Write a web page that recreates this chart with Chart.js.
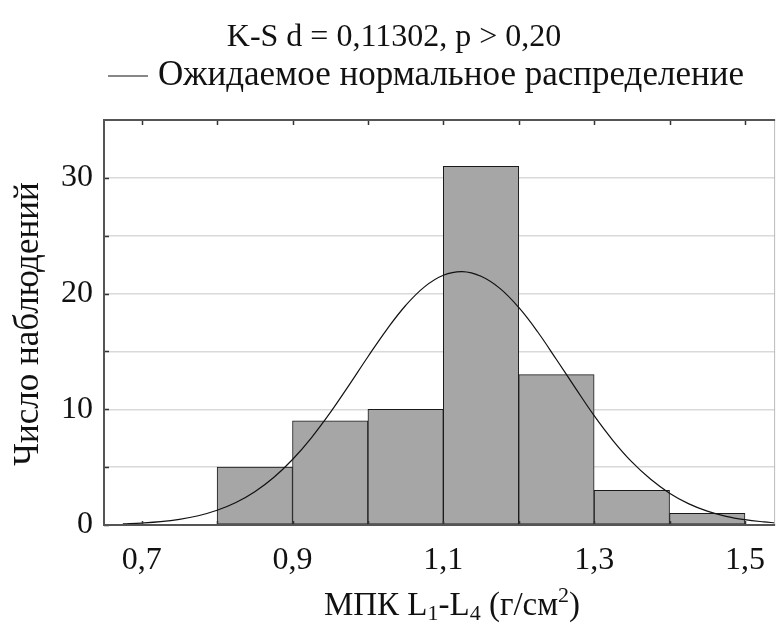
<!DOCTYPE html>
<html>
<head>
<meta charset="utf-8">
<script src="https://cdn.jsdelivr.net/npm/chart.js@4.4.0/dist/chart.umd.min.js"></script>
<style>
  html, body { margin: 0; padding: 0; background: #fff; }
  #wrap { width: 781px; height: 629px; }
</style>
</head>
<body>
<div id="wrap"><canvas id="histChart"></canvas></div>
<script>
// histogram bins (centres of 0.1-wide classes) and counts
const binCenters = [0.85, 0.95, 1.05, 1.15, 1.25, 1.35, 1.45];
const binCounts = [5, 9, 10, 31, 13, 3, 1];

const curveX = [0.675, 0.7, 0.725, 0.75, 0.775, 0.8, 0.825, 0.85, 0.875, 0.9, 0.925, 0.95, 0.975,
  1.0, 1.025, 1.05, 1.075, 1.1, 1.125, 1.15, 1.175, 1.2, 1.225, 1.25, 1.275, 1.3, 1.325,
  1.35, 1.375, 1.4, 1.425, 1.45, 1.475, 1.5, 1.525, 1.54];
const curveY = [0.09, 0.17, 0.29, 0.49, 0.8, 1.27, 1.94, 2.87, 4.1, 5.66, 7.54, 9.71, 12.09,
  14.54, 16.89, 18.97, 20.58, 21.58, 21.9, 21.5, 20.45, 18.8, 16.7, 14.3, 11.85, 9.45, 7.3,
  5.45, 3.95, 2.75, 1.85, 1.2, 0.75, 0.46, 0.27, 0.19];

const xTickValues = [0.7, 0.8, 0.9, 1.0, 1.1, 1.2, 1.3, 1.4, 1.5];
const xTickLabels = ['0,7', '', '0,9', '', '1,1', '', '1,3', '', '1,5'];
const yTickValues = [0, 5, 10, 15, 20, 25, 30];
const yTickLabels = ['0', '', '10', '', '20', '', '30'];

const titleText = 'K-S d = 0,11302, p > 0,20';
const legendText = 'Ожидаемое нормальное распределение';
const yTitleText = 'Число наблюдений';
// x-axis title pieces: [text, 'n' | 'sub' | 'sup']
const xTitleParts = [['МПК L', 'n'], ['1', 'sub'], ['-L', 'n'], ['4', 'sub'], [' (г/см', 'n'], ['2', 'sup'], [')', 'n']];

const FONT = '"Liberation Serif", "Times New Roman", serif';
const TEXT_COLOR = '#111';

// frame, inward tick marks and the text around the plot
const decorations = {
  id: 'decorations',
  afterDatasetsDraw(chart) {
    const { ctx, chartArea: a, scales } = chart;
    ctx.save();
    ctx.strokeStyle = '#333';
    ctx.lineWidth = 1.5;
    ctx.beginPath();
    xTickValues.forEach(v => {
      const px = Math.round(scales.x.getPixelForValue(v)) + 0.5;
      ctx.moveTo(px, a.top); ctx.lineTo(px, a.top + 5);
      ctx.moveTo(px, a.bottom); ctx.lineTo(px, a.bottom - 4);
    });
    yTickValues.forEach(v => {
      const py = Math.round(scales.y.getPixelForValue(v)) + 0.5;
      ctx.moveTo(a.left, py); ctx.lineTo(a.left + 5, py);
    });
    ctx.stroke();

    // right edge is only faint
    ctx.strokeStyle = '#bbb';
    ctx.lineWidth = 1;
    ctx.beginPath();
    ctx.moveTo(a.right - 0.5, a.top); ctx.lineTo(a.right - 0.5, a.bottom);
    ctx.stroke();

    ctx.strokeStyle = '#555';
    ctx.lineWidth = 2;
    ctx.beginPath();
    ctx.moveTo(a.right, a.top); ctx.lineTo(a.left, a.top);
    ctx.lineTo(a.left, a.bottom); ctx.lineTo(a.right, a.bottom);
    ctx.stroke();
    ctx.restore();
  },
  afterDraw(chart) {
    const { ctx } = chart;
    ctx.save();
    ctx.fillStyle = TEXT_COLOR;
    ctx.textBaseline = 'middle';

    ctx.font = '32px ' + FONT;
    ctx.textAlign = 'center';
    ctx.fillText(titleText, 394, 38);

    // legend: line sample + label
    ctx.strokeStyle = '#111';
    ctx.lineWidth = 1.2;
    ctx.beginPath();
    ctx.moveTo(108, 76); ctx.lineTo(148, 76);
    ctx.stroke();
    ctx.font = '35px ' + FONT;
    ctx.textAlign = 'left';
    ctx.fillText(legendText, 158, 76);

    // y-axis title
    ctx.save();
    ctx.translate(29, 324);
    ctx.rotate(-Math.PI / 2);
    ctx.font = '35px ' + FONT;
    ctx.textAlign = 'center';
    ctx.fillText(yTitleText, 0, 0);
    ctx.restore();

    // x-axis title with sub/superscripts
    const base = 33, small = 22;
    let total = 0;
    xTitleParts.forEach(([t, k]) => {
      ctx.font = (k === 'n' ? base : small) + 'px ' + FONT;
      total += ctx.measureText(t).width;
    });
    let x = 452 - total / 2;
    const y = 606;
    ctx.textAlign = 'left';
    xTitleParts.forEach(([t, k]) => {
      ctx.font = (k === 'n' ? base : small) + 'px ' + FONT;
      const dy = k === 'sub' ? 8 : k === 'sup' ? -10 : 0;
      ctx.fillText(t, x, y + dy);
      x += ctx.measureText(t).width;
    });
    ctx.restore();
  }
};

new Chart(document.getElementById('histChart'), {
  type: 'bar',
  data: {
    datasets: [
      {
        type: 'line',
        label: legendText,
        data: curveX.map((x, i) => ({ x: x, y: curveY[i] })),
        borderColor: '#111',
        borderWidth: 1.2,
        pointRadius: 0,
        tension: 0.4,
        fill: false,
        order: 0
      },
      {
        type: 'bar',
        label: 'Число наблюдений',
        data: binCenters.map((x, i) => ({ x: x, y: binCounts[i] })),
        backgroundColor: '#a6a6a6',
        borderColor: '#1a1a1a',
        borderWidth: 1,
        borderSkipped: false,
        barPercentage: 1,
        categoryPercentage: 1,
        order: 1
      }
    ]
  },
  options: {
    responsive: true,
    maintainAspectRatio: false,
    animation: false,
    layout: { padding: { top: 120, right: 1, left: 0, bottom: 0 } },
    plugins: {
      legend: { display: false },
      title: { display: false },
      tooltip: { enabled: false }
    },
    scales: {
      x: {
        type: 'linear',
        min: 0.65,
        max: 1.54,
        offset: false,
        afterBuildTicks: s => { s.ticks = xTickValues.map(v => ({ value: v })); },
        afterFit: s => { s.height = 104; },
        grid: { display: false, drawTicks: false },
        border: { display: false },
        ticks: {
          autoSkip: false,
          maxRotation: 0,
          padding: 16,
          color: TEXT_COLOR,
          font: { family: FONT, size: 32 },
          callback: (v, i) => xTickLabels[i]
        }
      },
      y: {
        min: 0,
        max: 35,
        afterBuildTicks: s => { s.ticks = yTickValues.map(v => ({ value: v })); },
        afterFit: s => { s.width = 104; },
        grid: {
          drawTicks: false,
          lineWidth: 1.5,
          color: ctx => (ctx.tick && ctx.tick.value === 0 ? 'rgba(0,0,0,0)' : '#d9d9d9')
        },
        border: { display: false },
        ticks: {
          padding: 11,
          color: TEXT_COLOR,
          font: { family: FONT, size: 32 },
          callback: (v, i) => yTickLabels[i]
        }
      }
    }
  },
  plugins: [decorations]
});
</script>
</body>
</html>
